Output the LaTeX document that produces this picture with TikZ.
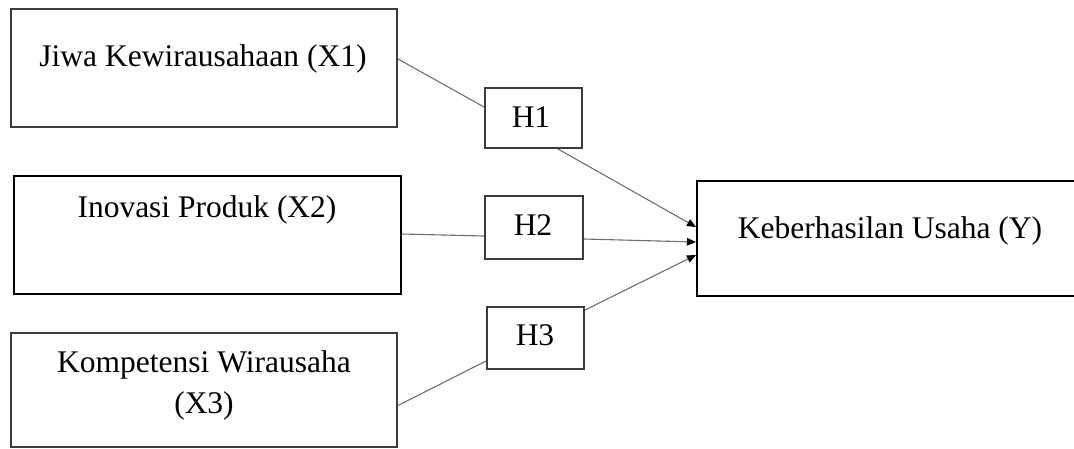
\documentclass[tikz,border=0pt]{standalone}
\usepackage{fontspec}
\setmainfont{Liberation Serif}
\usetikzlibrary{arrows.meta}
\definecolor{boxgray}{RGB}{60,60,60}
\definecolor{linkgray}{RGB}{110,110,110}
\begin{document}
\begin{tikzpicture}[x=1pt,y=-1pt,
  box/.style={draw=boxgray,line width=2pt,inner sep=0pt,fill=white},
  boxdark/.style={draw=black,line width=2.4pt,inner sep=0pt,fill=white},
  txt/.style={anchor=base,inner sep=0pt,font=\fontsize{31.5}{41}\selectfont},
  link/.style={draw=linkgray,line width=1.1pt},
  arr/.style={link,-{Triangle[length=9pt,width=7.5pt,color=black]}}]
\useasboundingbox (0,0) rectangle (1074,448);
% boxes
\node[box,minimum width=386,minimum height=118] (X1) at (204,68) {};
\node[boxdark,minimum width=387,minimum height=118] (X2) at (207.5,235) {};
\node[box,minimum width=386,minimum height=114] (X3) at (204,390) {};
\node[box,minimum width=97,minimum height=60] (H1) at (533.5,118) {};
\node[box,minimum width=98,minimum height=63] (H2) at (534,227.5) {};
\node[box,minimum width=97,minimum height=62] (H3) at (535.5,338) {};
\node[boxdark,line width=2pt,minimum width=381,minimum height=115] (Y) at (887.5,238.5) {};
% texts
\node[txt] (tX1) at (203,66) {Jiwa Kewirausahaan (X1)};
\node[txt] (tX2) at (207,217) {Inovasi Produk (X2)};
\node[txt] (tX3a) at (204,372) {Kompetensi Wirausaha};
\node[txt] (tX3b) at (204,413) {(X3)};
\node[txt] (tH1) at (531,127) {H1};
\node[txt] (tH2) at (533,235) {H2};
\node[txt] (tH3) at (535,345) {H3};
\node[txt] (tY) at (890,238) {Keberhasilan Usaha (Y)};
% connectors
\draw[link] ([yshift=9pt]X1.east) -- ([yshift=11pt]H1.west);
\draw[arr] ([xshift=24.5pt]H1.south) -- ([yshift=11.5pt]Y.west);
\draw[link] ([yshift=1pt]X2.east) -- ([yshift=-8.5pt]H2.west);
\draw[arr] ([yshift=-11.5pt]H2.east) -- ([yshift=-3.5pt]Y.west);
\draw[link] ([yshift=-15.5pt]X3.east) -- ([yshift=-23pt]H3.west);
\draw[arr] ([yshift=28pt]H3.east) -- ([yshift=-16.5pt]Y.west);
\end{tikzpicture}
\end{document}
